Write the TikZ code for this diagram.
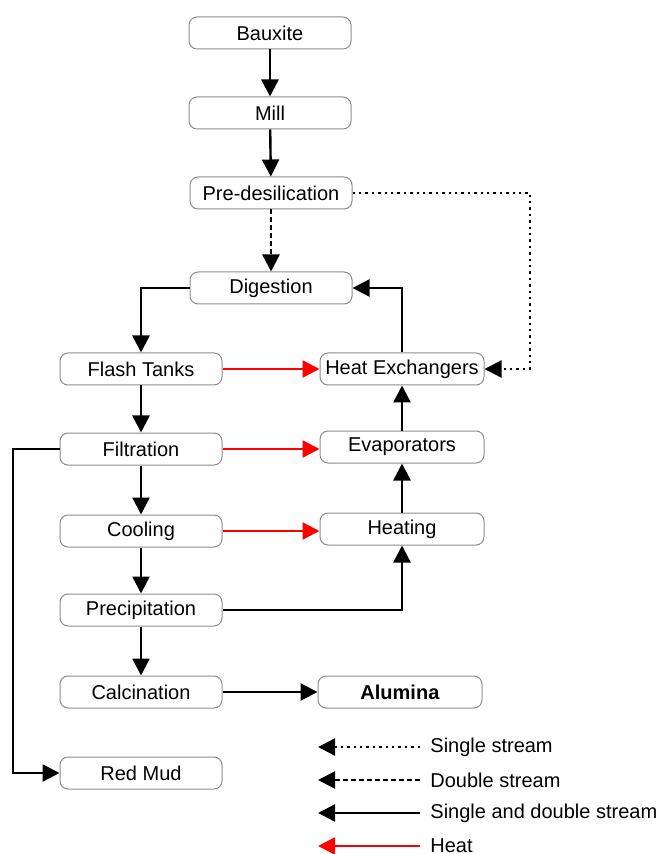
\documentclass[tikz,border=0pt]{standalone}
\usepackage{fontspec}
\setmainfont{Liberation Sans}
\usepackage{tikz}
\usetikzlibrary{arrows.meta}

\begin{document}
\begin{tikzpicture}[x=0.5pt,y=-0.5pt,
    stepbox/.style={draw=black!45,line width=0.5pt,rounded corners=4pt,fill=white,
      minimum width=81pt,minimum height=16pt,inner sep=0pt,font=\fontsize{10}{11}\selectfont},
    flow/.style={line width=1.2pt,-{Triangle[length=8.5pt,width=8.5pt]}},
    heat/.style={flow,red},
    single/.style={flow,dotted},
    double/.style={flow,dash pattern=on 2.5pt off 1.5pt},
    legtext/.style={anchor=west,inner sep=0pt,font=\fontsize{10}{11}\selectfont}]
  \useasboundingbox (0,0) rectangle (660,854);

  % left column
  \node[stepbox] (bauxite) at (270,33) {Bauxite};
  \node[stepbox] (mill) at (270,113) {Mill};
  \node[stepbox] (predes) at (271,193) {Pre-desilication};
  \node[stepbox] (digest) at (271,288) {Digestion};
  \node[stepbox] (flash) at (141,369) {Flash Tanks};
  \node[stepbox] (filtr) at (141,449) {Filtration};
  \node[stepbox] (cool) at (141,531) {Cooling};
  \node[stepbox] (precip) at (141,610) {Precipitation};
  \node[stepbox] (calc) at (141,692) {Calcination};
  \node[stepbox] (redmud) at (141,773) {Red Mud};

  % right column
  \node[stepbox,minimum width=82pt] (heatex) at (402,369) {Heat Exchangers};
  \node[stepbox,minimum width=82pt] (evap) at (402,447) {Evaporators};
  \node[stepbox,minimum width=82pt] (heating) at (402,529) {Heating};
  \node[stepbox,minimum width=82pt] (alumina) at (400,692) {\textbf{Alumina}};

  \coordinate (dotc) at (530,193);
  \coordinate (mudc) at (13,449);

  % streams
  \draw[flow] (bauxite) -- (mill);
  \draw[flow] (mill) -- (predes);
  \draw[double] (predes) -- (digest);
  \draw[single] (predes.east) -- (dotc) |- (heatex.east);
  \draw[flow] (digest.west) -| (flash.north);
  \draw[flow] (heatex.north) |- (digest.east);
  \draw[flow] (flash) -- (filtr);
  \draw[flow] (filtr) -- (cool);
  \draw[flow] (cool) -- (precip);
  \draw[flow] (precip) -- (calc);
  \draw[flow] (calc) -- (alumina);
  \draw[flow] (filtr.west) -- (mudc) |- (redmud.west);
  \draw[flow] (precip.east) -| (heating.south);
  \draw[flow] (heating) -- (evap);
  \draw[flow] (evap) -- (heatex);

  % heat
  \draw[heat] (flash.east) -- (flash.east -| heatex.west);
  \draw[heat] (filtr.east) -- (filtr.east -| evap.west);
  \draw[heat] (cool.east) -- (cool.east -| heating.west);

  % legend
  \coordinate (l1a) at (420,747); \coordinate (l1b) at (318,747);
  \coordinate (l2a) at (420,780); \coordinate (l2b) at (318,780);
  \coordinate (l3a) at (420,813); \coordinate (l3b) at (318,813);
  \coordinate (l4a) at (420,846); \coordinate (l4b) at (318,846);
  \draw[single] (l1a) -- (l1b);
  \draw[double] (l2a) -- (l2b);
  \draw[flow] (l3a) -- (l3b);
  \draw[heat] (l4a) -- (l4b);
  \node[legtext] (lt1) at (430,747) {Single stream};
  \node[legtext] (lt2) at (430,780) {Double stream};
  \node[legtext] (lt3) at (430,813) {Single and double stream};
  \node[legtext] (lt4) at (430,846) {Heat};
\end{tikzpicture}
\end{document}
